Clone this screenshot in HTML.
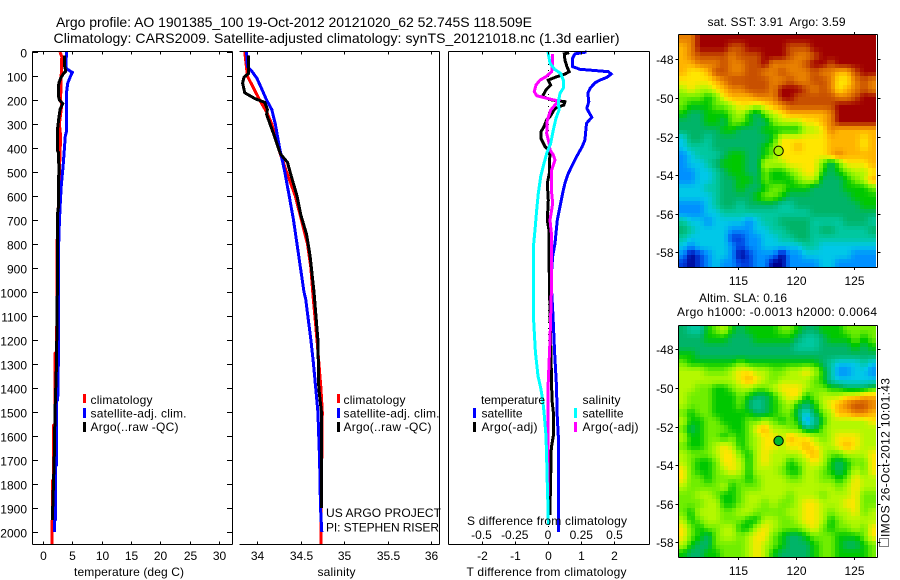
<!DOCTYPE html>
<html>
<head>
<meta charset="utf-8">
<title>Argo profile 1901385_100</title>
<style>
html,body{margin:0;padding:0;background:#fff;}
svg{display:block;}
text{font-family:"Liberation Sans",sans-serif;font-size:12px;fill:#000;}
.t14{font-size:14px;}
.t13{font-size:13px;}
.s{fill:none;stroke-width:3;stroke-linejoin:miter;shape-rendering:crispEdges;}
.a{stroke:#000;stroke-width:1;fill:none;shape-rendering:crispEdges;}
</style>
</head>
<body>
<svg id="chart" xmlns="http://www.w3.org/2000/svg" width="900" height="580" viewBox="0 0 900 580">
  <rect x="0" y="0" width="900" height="580" fill="#fff"/>

  <g id="panel-temp"></g>
  <g id="panel-sal"></g>
  <g id="panel-diff"></g>
  <g id="map-sst"></g>
  <g id="map-sla"></g>

  <text class="t14" x="56" y="27" textLength="476">Argo profile: AO 1901385_100 19-Oct-2012 20121020_62 52.745S 118.509E</text>
  <text class="t14" x="53.5" y="43" textLength="566">Climatology: CARS2009. Satellite-adjusted climatology: synTS_20121018.nc (1.3d earlier)</text>

  <text x="74" y="576" textLength="110">temperature (deg C)</text>
  <text x="317.5" y="576" textLength="38">salinity</text>
  <text x="466.5" y="576" textLength="160">T difference from climatology</text>
  <text x="467" y="525" textLength="160">S difference from climatology</text>

  <g>
    <rect x="83" y="394" width="3" height="9" fill="#f00"/>
    <rect x="83" y="408" width="3" height="10" fill="#00f"/>
    <rect x="83" y="422" width="3" height="10" fill="#000"/>
    <text x="90.5" y="404" textLength="62">climatology</text>
    <text x="90.5" y="417.5" textLength="96">satellite-adj. clim.</text>
    <text x="90.5" y="431" textLength="88">Argo(..raw -QC)</text>
  </g>
  <g>
    <rect x="337" y="394" width="3" height="9" fill="#f00"/>
    <rect x="337" y="408" width="3" height="10" fill="#00f"/>
    <rect x="337" y="422" width="3" height="10" fill="#000"/>
    <text x="343.5" y="404" textLength="62">climatology</text>
    <text x="343.5" y="417.5" textLength="96">satellite-adj. clim.</text>
    <text x="343.5" y="431" textLength="88">Argo(..raw -QC)</text>
  </g>
  <text x="326" y="517" textLength="115">US ARGO PROJECT</text>
  <text x="326" y="531.5" textLength="113">PI: STEPHEN RISER</text>

  <g>
    <text x="481" y="404" textLength="64">temperature</text>
    <rect x="473" y="408" width="3" height="10" fill="#00f"/>
    <rect x="473" y="422" width="3" height="10" fill="#000"/>
    <text x="481.5" y="417.5" textLength="41">satellite</text>
    <text x="481.5" y="431" textLength="56">Argo(-adj)</text>
    <text x="582.5" y="404" textLength="38">salinity</text>
    <rect x="574" y="408" width="3" height="10" fill="#0ff"/>
    <rect x="574" y="422" width="3" height="10" fill="#f0f"/>
    <text x="582.5" y="417.5" textLength="41">satellite</text>
    <text x="582.5" y="431" textLength="56">Argo(-adj)</text>
  </g>

  <text x="707.5" y="26" textLength="138" xml:space="preserve">sat. SST: 3.91  Argo: 3.59</text>
  <text x="699" y="302" textLength="88">Altim. SLA: 0.16</text>
  <text x="677" y="316" textLength="200">Argo h1000: -0.0013 h2000: 0.0064</text>

  <text transform="translate(889.5,537) rotate(-90)" textLength="159">IMOS 26-Oct-2012 10:01:43</text>
  <rect x="879.5" y="538.5" width="9" height="8" fill="none" stroke="#000" stroke-width="1" stroke-dasharray="1 1" shape-rendering="crispEdges"/>
</svg>

<script>
/* ---------- axis tick labels ---------- */
const depthTicks = [0,100,200,300,400,500,600,700,800,900,1000,1100,1200,1300,1400,1500,1600,1700,1800,1900,2000];
const tempTicks = [0,5,10,15,20,25,30];
const salTicks = ["34","34.5","35","35.5","36"];
const diffTTicks = ["-2","-1","0","1","2"];
const diffSTicks = ["-0.5","-0.25","0","0.25","0.5"];
const lonTicks = [115,120,125];
const latTicks = [-48,-50,-52,-54,-56,-58];

/* ---------- temperature panel ---------- */
const tempClimDepth = [0,20,100,200,220,300,350,500,800,1000,1250,1255,1400,1550,1555,1780,1785,1950,1955,2055];
const tempClimValues = [2.9,3.2,3.1,3.0,3.2,2.8,3.0,2.8,2.4,2.4,2.3,2.05,2.05,2.05,1.82,1.82,1.65,1.65,1.5,1.5];
const tempSatDepth = [0,60,70,85,100,130,170,330,350,420,480,560,650,770,1000,1300,1450,1455,1720,1725,1950,1955,2000];
const tempSatValues = [4.0,3.9,4.0,5.0,4.7,4.2,4.0,4.0,3.8,3.6,3.4,3.1,2.9,2.7,2.6,2.6,2.5,2.33,2.33,2.1,2.1,1.93,1.93];
const tempArgoDepth = [15,60,80,90,110,130,180,200,215,240,280,330,410,420,500,650,680,1000,1300,1500,1700,1900,1950];
const tempArgoValues = [3.7,3.7,3.87,3.5,3.0,2.7,2.6,2.8,3.35,2.9,2.67,2.44,2.44,2.67,2.7,2.6,2.44,2.44,2.3,2.04,1.9,1.65,1.6];

/* ---------- salinity panel ---------- */
const salClimDepth = [0,100,150,200,250,300,400,500,600,700,800,900,1000,1200,1400,1500,2000,2055];
const salClimValues = [33.86,33.89,33.96,34.03,34.11,34.17,34.245,34.34,34.44,34.51,34.58,34.62,34.64,34.69,34.735,34.75,34.735,34.735];
const salSatDepth = [0,60,80,110,150,200,240,300,400,500,600,700,800,900,1000,1030,1200,1300,1400,1500,1700,1900,2000];
const salSatValues = [33.88,33.89,33.94,34.0,34.05,34.11,34.17,34.21,34.26,34.32,34.37,34.42,34.46,34.5,34.54,34.56,34.62,34.65,34.675,34.7,34.72,34.73,34.745];
const salArgoDepth = [15,90,105,130,170,195,210,240,260,300,340,400,425,460,500,600,680,760,850,1000,1200,1400,1500,1900];
const salArgoValues = [33.9,33.9,33.85,33.835,33.86,33.98,34.09,34.12,34.11,34.15,34.19,34.245,34.27,34.35,34.38,34.46,34.505,34.57,34.61,34.655,34.7,34.71,34.74,34.74];

/* ---------- difference panel ---------- */
const diffTSatDepth = [0,8,26,61,72,78,82,92,106,117,128,151,172,207,235,272,297,367,394,436,464,506,547,589,644,700,797,853,950,1100,1250,1400,1500,1600,2000];
const diffTSatValues = [1.16,0.81,0.74,0.74,0.96,1.47,1.82,1.9,1.77,1.57,1.42,1.27,1.2,1.23,1.17,1.32,1.16,1.11,1.03,0.86,0.76,0.61,0.51,0.44,0.36,0.28,0.21,0.14,0.09,0.15,0.2,0.26,0.27,0.31,0.31];
const diffTArgoDepth = [3,8,33,61,82,92,106,117,138,158,186,200,207,221,235,269,283,311,332,360,394,408,429,457,506,547,617,700,742,950,1400,1450,1500,1600,1650,1900,1930];
const diffTArgoValues = [0.64,0.49,0.51,0.57,0.64,0.51,0.21,0.01,0.08,-0.06,-0.17,0.11,0.51,0.48,0.21,0.06,-0.04,-0.12,-0.21,-0.21,-0.09,0.01,0.06,0.04,0.04,-0.02,0.01,-0.02,0.03,0.04,0.11,0.12,0.16,0.16,0.1,0.06,0.06];
const diffSSatDepth = [0,47,72,89,117,151,172,207,242,276,325,381,422,464,519,589,658,742,811,950,1100,1250,1350,1400,1450,1500,1600,1700,1800,1900,1970];
const diffSSatValues = [0,0.015,0.05,0.095,0.115,0.115,0.09,0.078,0.083,0.06,0.04,0.02,-0.01,-0.03,-0.055,-0.073,-0.085,-0.098,-0.11,-0.11,-0.11,-0.095,-0.075,-0.055,-0.04,-0.03,-0.015,-0.01,-0.005,0,0.003];
const diffSArgoDepth = [8,54,82,103,117,138,165,182,193,204,221,242,283,339,381,408,429,450,492,589,631,700,769,950,1200,1400,1600,1850];
const diffSArgoValues = [0.033,0.033,0.028,-0.015,-0.06,-0.09,-0.103,-0.085,-0.01,0.078,0.053,0.02,-0.005,-0.01,0.008,0.015,0.04,0.053,0.028,0.028,0.035,0.015,0.028,0.028,0.015,0,0,0];

/* ---------- map grids (colour level 0 = coldest/lowest ... 13 = warmest/highest) ---------- */
const sstLevels = [
[11,11,13,13,13,13,13,13,13,13,13,13,13,13,13,13,13,13,13,13,13,13,13,13],
[10,11,13,13,13,13,12,12,13,13,13,13,13,12,12,12,13,13,13,13,13,13,13,13],
[10,11,12,12,12,12,11,12,12,12,13,13,13,12,11,11,12,13,13,13,13,13,13,13],
[10,10,11,11,11,12,11,11,12,12,13,11,11,11,11,12,13,13,12,13,13,13,13,13],
[10,9,9,10,12,12,11,11,12,12,11,11,12,11,11,11,12,11,11,10,10,12,13,13],
[9,9,9,9,10,11,12,12,12,12,12,11,11,12,11,11,12,12,11,9,9,11,12,11],
[8,9,8,8,9,10,11,11,12,12,12,11,13,13,13,12,11,12,11,9,10,11,12,11],
[7,7,7,6,7,9,10,10,10,11,11,11,13,13,12,12,12,12,12,11,11,12,13,13],
[7,6,6,6,7,7,8,9,9,8,9,10,11,12,12,12,12,12,12,13,13,13,13,13],
[6,5,5,6,6,6,7,8,6,5,7,8,9,10,10,10,10,10,11,13,13,13,13,13],
[5,5,5,6,6,5,7,7,6,5,5,7,8,8,8,9,9,10,11,13,13,13,13,13],
[5,5,5,5,5,6,6,5,5,5,6,6,6,6,6,8,8,9,11,10,10,10,10,10],
[3,5,5,4,5,5,5,5,5,5,5,6,9,9,9,9,9,9,10,10,10,10,9,10],
[3,4,4,4,5,5,5,5,5,5,6,7,9,9,10,9,9,9,10,10,10,10,9,10],
[2,3,4,4,4,5,6,6,5,5,6,7,9,9,9,9,9,9,10,11,10,10,10,10],
[2,3,3,4,5,6,6,6,5,5,8,8,8,9,9,9,9,7,5,7,9,9,9,10],
[2,2,3,3,4,5,6,6,5,5,7,6,6,7,8,9,9,6,5,6,7,8,8,9],
[2,2,3,3,4,5,5,6,6,5,7,6,6,6,7,8,8,5,5,5,6,7,8,10],
[3,3,3,4,4,5,5,6,5,5,6,7,7,6,6,6,5,5,5,5,6,6,6,7],
[3,3,3,3,4,5,5,5,5,6,7,7,6,5,5,5,5,5,5,5,5,6,6,6],
[2,2,2,3,4,5,5,4,5,5,5,5,4,4,5,5,5,5,5,5,5,5,6,6],
[2,2,2,3,3,4,4,4,4,4,4,4,4,4,4,4,5,5,5,5,5,5,5,5],
[4,3,3,2,3,3,3,3,2,3,4,4,5,5,5,5,4,4,4,4,5,5,5,4],
[5,4,3,3,3,3,2,2,2,3,3,4,4,5,5,5,4,5,5,4,4,4,4,5],
[4,3,3,3,3,3,1,1,2,2,3,3,4,4,5,5,4,4,4,4,4,4,4,4],
[3,2,3,3,3,3,2,1,2,2,3,3,3,3,3,4,4,3,3,3,3,3,3,3],
[2,0,1,2,3,3,2,0,1,2,2,2,0,2,2,3,3,3,3,3,3,2,2,2],
[1,0,1,2,3,2,2,1,1,2,2,0,0,2,2,2,2,3,3,2,2,2,2,2]
];
const slaLevels = [
[5,4,4,6,7,8,6,5,6,6,6,6,7,7,6,5,5,6,6,6,7,7,7,7],
[5,5,5,6,6,6,5,5,5,6,6,6,6,6,5,4,4,5,6,6,6,7,6,7],
[5,5,5,5,5,5,5,5,5,5,5,5,5,5,4,4,4,5,5,5,5,6,5,6],
[6,6,5,5,5,5,5,5,5,5,5,5,5,5,5,5,5,5,5,5,5,5,5,5],
[7,6,6,6,6,6,6,7,6,6,6,6,6,6,6,6,6,5,4,3,3,3,4,3],
[8,8,8,7,7,7,8,9,9,8,8,7,7,8,8,9,8,6,4,2,2,3,3,2],
[8,8,8,8,8,8,8,9,10,9,8,7,8,8,8,8,7,6,4,3,3,3,3,3],
[8,8,7,7,6,6,7,8,8,7,7,8,9,9,9,8,7,7,6,6,5,5,5,6],
[8,7,7,7,6,6,6,7,6,5,5,6,8,9,9,6,7,8,8,8,9,9,10,10],
[8,7,7,7,6,6,6,7,5,4,5,6,7,8,6,5,6,8,9,10,11,12,12,11],
[7,6,7,7,6,6,6,6,6,5,5,6,7,7,5,3,5,7,8,10,10,11,11,10],
[8,6,6,7,7,6,6,6,7,7,8,7,6,7,6,2,4,6,8,8,8,8,8,9],
[7,5,6,7,7,7,6,6,7,9,10,8,8,7,7,5,5,7,8,8,8,8,8,8],
[8,6,6,7,7,6,7,6,7,8,9,9,8,10,9,9,8,7,8,9,9,9,8,8],
[7,6,6,7,8,9,8,6,7,8,9,9,8,9,9,10,9,8,8,9,10,9,8,8],
[8,7,7,7,8,9,9,7,6,8,9,8,8,8,8,9,10,8,7,7,8,8,8,9],
[8,7,6,6,7,9,9,8,6,8,9,8,8,6,7,8,9,8,6,5,6,7,7,9],
[9,7,6,6,7,8,9,8,6,8,8,8,7,6,6,8,8,7,6,5,6,8,7,9],
[9,7,7,6,7,7,7,7,6,7,8,8,8,7,7,8,8,7,7,6,7,9,8,8],
[8,7,7,7,7,8,6,7,7,7,8,8,8,8,8,8,8,8,8,7,8,9,8,8],
[7,7,8,8,7,6,6,7,8,8,8,8,8,7,8,8,8,7,8,8,8,9,7,7],
[7,7,7,8,8,6,6,7,8,8,7,8,7,7,8,9,9,8,8,8,9,9,7,7],
[7,6,8,8,8,7,7,8,8,7,7,7,7,8,8,9,9,8,7,8,8,9,7,8],
[8,6,7,8,8,7,7,7,6,6,8,8,7,7,8,9,9,8,6,7,8,8,8,8],
[9,7,6,7,7,8,8,6,6,8,9,8,7,7,7,8,9,7,6,7,7,8,7,9],
[9,7,6,5,7,8,8,7,8,9,9,7,6,5,5,6,7,7,7,6,6,6,7,9],
[8,6,5,5,7,7,7,7,8,9,8,7,6,5,5,5,6,7,7,6,5,5,6,7],
[6,5,5,6,6,7,7,7,8,9,8,6,5,5,5,5,6,7,7,6,6,6,6,7]
];

/* ---------- colour ramp and scales ---------- */
const ramp = [[0,0,144],[0,64,224],[0,144,255],[0,200,232],[0,200,160],[0,180,104],[0,200,0],[112,238,0],[180,248,0],[255,230,0],[255,180,0],[232,128,0],[200,80,0],[160,0,0]];
const NS = "http://www.w3.org/2000/svg";
const TOP = 51.5, BOTTOM = 544.5;
function yD(d){ return 52 + d * 0.24; }
function xTemp(v){ return 43 + v * 5.87; }
function xSal(v){ return 257 + (v - 34) * 87; }
function xDT(v){ return 548 + v * 33.2; }
function xDS(v){ return 548 + v * 133; }
function xLon(lon){ return 737.7 + (lon - 115) * 11.65; }
function colourFor(v){
  const i = Math.min(12, Math.max(0, Math.floor(v)));
  const f = v - i;
  const a = ramp[i], b = ramp[i + 1];
  return "rgb(" + Math.round(a[0] + (b[0] - a[0]) * f) + "," + Math.round(a[1] + (b[1] - a[1]) * f) + "," + Math.round(a[2] + (b[2] - a[2]) * f) + ")";
}
function sampleGrid(levels, u, v){
  const nR = levels.length, nC = levels[0].length;
  const uu = Math.max(0, Math.min(nC - 1, u)), vv = Math.max(0, Math.min(nR - 1, v));
  const c0 = Math.floor(uu), r0 = Math.floor(vv);
  const c1 = Math.min(nC - 1, c0 + 1), r1 = Math.min(nR - 1, r0 + 1);
  const fu = uu - c0, fv = vv - r0;
  return (levels[r0][c0] * (1 - fu) + levels[r0][c1] * fu) * (1 - fv) + (levels[r1][c0] * (1 - fu) + levels[r1][c1] * fu) * fv;
}

function drawLine(g, x1, y1, x2, y2, name){
  const el = document.createElementNS(NS, "line");
  el.setAttribute("x1", x1); el.setAttribute("y1", y1);
  el.setAttribute("x2", x2); el.setAttribute("y2", y2);
  el.setAttribute("class", "a");
  
  
  g.appendChild(el);
  return el;
}
function drawText(g, x, y, str, anchor, name){
  const el = document.createElementNS(NS, "text");
  el.setAttribute("x", x); el.setAttribute("y", y);
  el.setAttribute("text-anchor", anchor);
  el.textContent = str;
  
  
  g.appendChild(el);
  return el;
}
function drawSeries(g, depths, values, xf, colour, name){
  const el = document.createElementNS(NS, "polyline");
  const pts = depths.map(function(d, i){ return xf(values[i]).toFixed(1) + "," + yD(d).toFixed(1); });
  el.setAttribute("points", pts.join(" "));
  el.setAttribute("class", "s");
  el.setAttribute("stroke", colour);
  
  
  g.appendChild(el);
  return el;
}

/* ---------- temperature panel drawing ---------- */
const gT = document.getElementById("panel-temp");
drawSeries(gT, tempClimDepth, tempClimValues, xTemp, "#f00", "temperature-climatology-line");
drawSeries(gT, tempSatDepth, tempSatValues, xTemp, "#00f", "temperature-satellite-line");
drawSeries(gT, tempArgoDepth, tempArgoValues, xTemp, "#000", "temperature-argo-line");
drawLine(gT, 32.5, TOP, 232.5, TOP, "temperature-top-spine");
drawLine(gT, 32.5, BOTTOM, 232.5, BOTTOM, "temperature-bottom-spine");
drawLine(gT, 32.5, TOP, 32.5, BOTTOM, "temperature-left-spine");
drawLine(gT, 232.5, TOP, 232.5, BOTTOM, "temperature-right-spine");
depthTicks.forEach(function(d){
  const y = Math.round(yD(d)) + 0.5;
  drawLine(gT, 32.5, y, 38, y, "depth-tick-left");
  drawLine(gT, 227, y, 232.5, y, "depth-tick-right");
  drawText(gT, 27, y + 5, String(d), "end", "depth-tick-label");
});
tempTicks.forEach(function(v){
  const x = Math.round(xTemp(v)) + 0.5;
  drawLine(gT, x, TOP, x, TOP + 3, "temperature-tick-top");
  drawLine(gT, x, BOTTOM - 3, x, BOTTOM, "temperature-tick-bottom");
  drawText(gT, x, 560, String(v), "middle", "temperature-tick-label");
});

/* ---------- salinity panel drawing ---------- */
const gS = document.getElementById("panel-sal");
drawSeries(gS, salClimDepth, salClimValues, xSal, "#f00", "salinity-climatology-line");
drawSeries(gS, salSatDepth, salSatValues, xSal, "#00f", "salinity-satellite-line");
drawSeries(gS, salArgoDepth, salArgoValues, xSal, "#000", "salinity-argo-line");
drawLine(gS, 239.5, TOP, 439.5, TOP, "salinity-top-spine");
drawLine(gS, 239.5, BOTTOM, 439.5, BOTTOM, "salinity-bottom-spine");
drawLine(gS, 439.5, TOP, 439.5, BOTTOM, "salinity-right-spine");
salTicks.forEach(function(v){
  const x = Math.round(xSal(parseFloat(v))) + 0.5;
  drawLine(gS, x, TOP, x, TOP + 3, "salinity-tick-top");
  drawLine(gS, x, BOTTOM - 3, x, BOTTOM, "salinity-tick-bottom");
  drawText(gS, x, 560, v, "middle", "salinity-tick-label");
});

/* ---------- difference panel drawing ---------- */
const gD = document.getElementById("panel-diff");
const zero = drawLine(gD, 548.5, 52, 548.5, yD(2000), "zero-difference-line");
zero.setAttribute("stroke-dasharray", "1 5");
drawSeries(gD, diffTSatDepth, diffTSatValues, xDT, "#00f", "t-difference-satellite-line");
drawSeries(gD, diffTArgoDepth, diffTArgoValues, xDT, "#000", "t-difference-argo-line");
drawSeries(gD, diffSArgoDepth, diffSArgoValues, xDS, "#f0f", "s-difference-argo-line");
drawSeries(gD, diffSSatDepth, diffSSatValues, xDS, "#0ff", "s-difference-satellite-line");
drawLine(gD, 448.5, TOP, 649.5, TOP, "difference-top-spine");
drawLine(gD, 448.5, BOTTOM, 649.5, BOTTOM, "difference-bottom-spine");
drawLine(gD, 448.5, TOP, 448.5, BOTTOM, "difference-left-spine");
drawLine(gD, 649.5, TOP, 649.5, BOTTOM, "difference-right-spine");
diffTTicks.forEach(function(v){
  const x = Math.round(xDT(parseFloat(v))) + 0.5;
  drawLine(gD, x, TOP, x, TOP + 3, "difference-tick-top");
  drawLine(gD, x, BOTTOM - 3, x, BOTTOM, "difference-tick-bottom");
  drawText(gD, x, 560, v, "middle", "t-difference-tick-label");
});
diffSTicks.forEach(function(v){
  const x = xDS(parseFloat(v));
  drawText(gD, x, 539, v, "middle", "s-difference-tick-label");
});

/* ---------- maps ---------- */
const SUBDIV = 2;
function drawMap(g, levels, lat48Y, top, bottom, cellName, prefix, labelY){
  const left = 679, right = 876;
  const nR = levels.length * SUBDIV, nC = levels[0].length * SUBDIV;
  const cw = (right - left) / nC, ch = (bottom - top) / nR;
  for (let r = 0; r < nR; r++) {
    for (let c = 0; c < nC; c++) {
      const v = sampleGrid(levels, (c + 0.5) / SUBDIV - 0.5, (r + 0.5) / SUBDIV - 0.5);
      const cell = document.createElementNS(NS, "rect");
      const x0 = Math.round(left + c * cw), x1 = Math.round(left + (c + 1) * cw);
      const y0 = Math.round(top + r * ch), y1 = Math.round(top + (r + 1) * ch);
      cell.setAttribute("x", x0); cell.setAttribute("y", y0);
      cell.setAttribute("width", x1 - x0); cell.setAttribute("height", y1 - y0);
      cell.setAttribute("fill", colourFor(v));
      cell.setAttribute("shape-rendering", "crispEdges");
      
      
      g.appendChild(cell);
    }
  }
  drawLine(g, 678.5, top - 0.5, 877.5, top - 0.5, prefix + "-top-spine");
  drawLine(g, 678.5, bottom + 0.5, 877.5, bottom + 0.5, prefix + "-bottom-spine");
  drawLine(g, 678.5, top - 0.5, 678.5, bottom + 0.5, prefix + "-left-spine");
  drawLine(g, 877.5, top - 0.5, 877.5, bottom + 0.5, prefix + "-right-spine");
  lonTicks.forEach(function(lon){
    const x = Math.round(xLon(lon)) + 0.5;
    drawLine(g, x, top - 3, x, top, prefix + "-lon-tick-top");
    drawLine(g, x, bottom, x, bottom + 3, prefix + "-lon-tick-bottom");
    drawText(g, x, labelY, String(lon), "middle", prefix + "-lon-tick-label");
  });
  latTicks.forEach(function(lat){
    const y = Math.round(lat48Y + (-48 - lat) * 19.3) + 0.5;
    drawLine(g, 675.5, y, 678.5, y, prefix + "-lat-tick-left");
    drawLine(g, 877.5, y, 880.5, y, prefix + "-lat-tick-right");
    drawText(g, 673.5, y + 4.5, String(lat), "end", prefix + "-lat-tick-label");
  });
  const mk = document.createElementNS(NS, "circle");
  mk.setAttribute("cx", xLon(118.509));
  mk.setAttribute("cy", lat48Y + (52.745 - 48) * 19.3);
  mk.setAttribute("r", 4.7);
  mk.setAttribute("stroke", "#000");
  mk.setAttribute("stroke-width", "1");
  mk.setAttribute("fill", prefix === "sst" ? "#a8f000" : "#00b830");
  
  
  g.appendChild(mk);
}
drawMap(document.getElementById("map-sst"), sstLevels, 59.3, 35, 267, "sst-cell", "sst", 285);
drawMap(document.getElementById("map-sla"), slaLevels, 349.3, 326, 557, "sla-cell", "sla", 575);
</script>
</body>
</html>
